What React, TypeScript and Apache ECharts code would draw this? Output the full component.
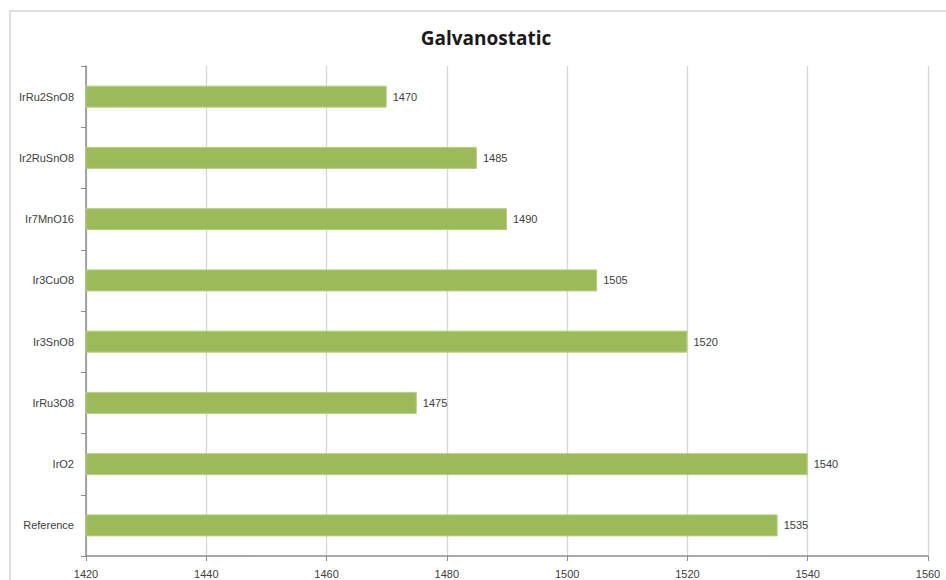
import React, { useEffect, useRef } from "react";
import * as echarts from "echarts";

// Categories listed bottom-to-top as ECharts draws a category y axis
const categories = [
  "Reference",
  "IrO2",
  "IrRu3O8",
  "Ir3SnO8",
  "Ir3CuO8",
  "Ir7MnO16",
  "Ir2RuSnO8",
  "IrRu2SnO8",
];
const values = [1535, 1540, 1475, 1520, 1505, 1490, 1485, 1470];
const axisMin = 1420;
const axisMax = 1560;
const axisStep = 20;

export default function App() {
  const ref = useRef<HTMLDivElement>(null);

  useEffect(() => {
    if (!ref.current) return;
    const chart = echarts.init(ref.current, null, { renderer: "svg" });
    const font = "'Liberation Sans', Arial, sans-serif";
    chart.setOption({
      animation: false,
      backgroundColor: "#ffffff",
      title: {
        text: "Galvanostatic",
        left: 481,
        textAlign: "center",
        top: 23,
        textStyle: {
          fontFamily: "'Open Sans', 'DejaVu Sans', sans-serif",
          fontWeight: "bold",
          fontSize: 19,
          color: "#1a1a1a",
        },
      },
      graphic: [
        {
          type: "rect",
          shape: { x: 10, y: 11, width: 960, height: 620 },
          style: { fill: "none", stroke: "#d4d4d4", lineWidth: 1.5 },
          silent: true,
          z: -1,
        },
      ],
      grid: { left: 86, right: 18, top: 66, bottom: 24, containLabel: false },
      xAxis: {
        type: "value",
        min: axisMin,
        max: axisMax,
        interval: axisStep,
        axisLine: { show: true, lineStyle: { color: "#8c8c8c", width: 1.5 } },
        axisTick: { show: true, length: 5, lineStyle: { color: "#8c8c8c" } },
        axisLabel: {
          margin: 12,
          fontFamily: font,
          fontSize: 11,
          color: "#404040",
          formatter: (v: number) => String(v),
        },
        splitLine: { show: true, lineStyle: { color: "#d6d6d6", width: 1.3 } },
      },
      yAxis: {
        type: "category",
        data: categories,
        axisLine: { show: true, lineStyle: { color: "#8c8c8c", width: 1.5 } },
        axisTick: { show: true, length: 5, lineStyle: { color: "#8c8c8c" } },
        axisLabel: {
          margin: 12,
          fontFamily: font,
          fontSize: 11,
          color: "#404040",
        },
      },
      series: [
        {
          type: "bar",
          data: values,
          barWidth: 22,
          itemStyle: {
            color: "#9bbb59",
            borderColor: "#b5cf82",
            borderWidth: 1,
          },
          label: {
            show: true,
            position: "right",
            distance: 6,
            fontFamily: font,
            fontSize: 11,
            color: "#404040",
          },
        },
      ],
    });
    return () => chart.dispose();
  }, []);

  return <div ref={ref} style={{ width: 946, height: 580, position: "absolute", left: 0, top: 0 }} />;
}
